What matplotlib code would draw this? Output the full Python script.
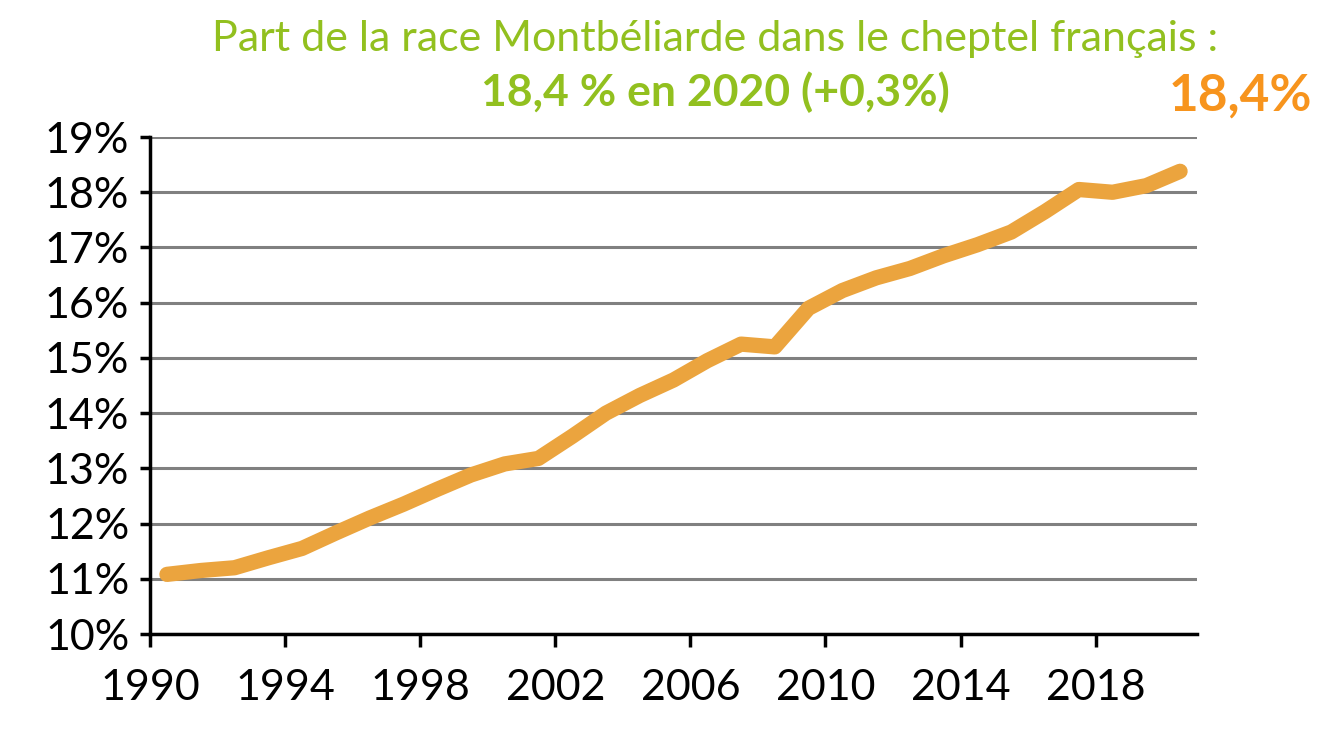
import matplotlib
matplotlib.use("Agg")
import matplotlib.pyplot as plt

years = list(range(1990, 2021))
share = [11.08, 11.15, 11.2, 11.38, 11.55, 11.83, 12.1, 12.35, 12.62, 12.88,
         13.08, 13.18, 13.58, 14.0, 14.32, 14.6, 14.95, 15.25, 15.2, 15.9,
         16.22, 16.45, 16.62, 16.85, 17.05, 17.28, 17.65, 18.05, 18.0, 18.12,
         18.38]
tick_years = [1990, 1994, 1998, 2002, 2006, 2010, 2014, 2018]
y_ticks = list(range(10, 20))

green = "#92C01F"
orange = "#F7941D"
line_color = "#EBA43E"

plt.rcParams['font.family'] = ['Lato', 'DejaVu Sans']

fig = plt.figure(figsize=(13.35, 7.29), dpi=100)
ax = fig.add_axes([0.1124, 0.1303, 0.7842, 0.6817])

# category axis: each year sits in the middle of its slot
x = [i + 0.5 for i in range(len(years))]
ax.plot(x, share, color=line_color, lw=11, solid_capstyle='round',
        solid_joinstyle='round', zorder=3)

ax.set_xlim(0, len(years))
ax.set_ylim(10, 19)
ax.set_xticks([years.index(y) for y in tick_years])
ax.set_xticklabels([str(y) for y in tick_years])
ax.set_yticks(y_ticks)
ax.set_yticklabels(['%d%%' % v for v in y_ticks])
ax.yaxis.grid(True, color='#808080', lw=2.2)
ax.set_axisbelow(True)

for s in ['top', 'right']:
    ax.spines[s].set_visible(False)
for s in ['left', 'bottom']:
    ax.spines[s].set_linewidth(2.5)
    ax.spines[s].set_color('black')
ax.tick_params(axis='x', length=9, width=2.5, labelsize=31, pad=16)
ax.tick_params(axis='y', length=7, width=2.5, labelsize=31, pad=8)

fig.text(0.536, 0.947, 'Part de la race Montbéliarde dans le cheptel français :',
         color=green, fontsize=31, ha='center', va='center')
fig.text(0.536, 0.873, '18,4 % en 2020 (+0,3%)', color=green, fontsize=32,
         fontweight='bold', ha='center', va='center')
fig.text(0.929, 0.868, '18,4%', color=orange, fontsize=37, fontweight='bold',
         ha='center', va='center')

fig.savefig('out.png', dpi=100)
